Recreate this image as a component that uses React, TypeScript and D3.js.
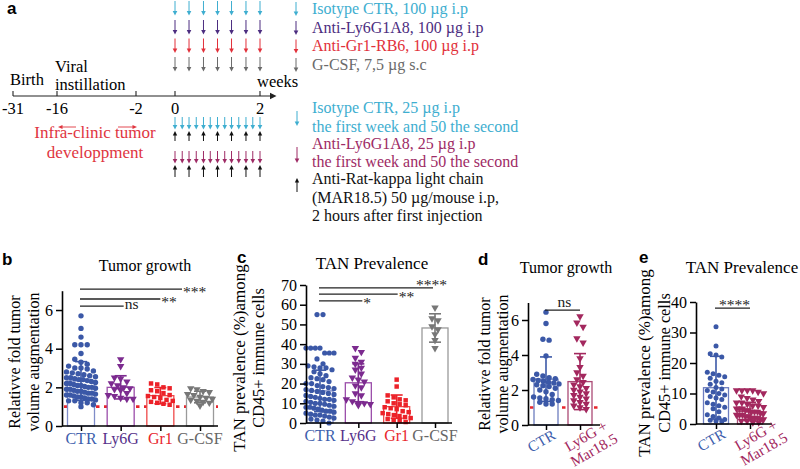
import React, { useEffect, useRef } from "react";
import * as d3 from "d3";

// ---- panel a: treatment schedule ----
const timelineTicks = [-31, -16, -2, 0, 2];
const highDoseWeeks = [0, 0.33, 0.67, 1, 1.33, 1.67, 2];
const lowDoseWeeks = [0, 0.17, 0.33, 0.5, 0.67, 0.83, 1, 1.17, 1.33, 1.5, 1.67, 1.83, 2];
const mar18Weeks = [0, 0.33, 0.67, 1, 1.33, 1.67, 2];
const highDoseLegend = [
  "Isotype CTR, 100 µg i.p",
  "Anti-Ly6G1A8, 100 µg i.p",
  "Anti-Gr1-RB6, 100 µg i.p",
  "G-CSF, 7,5 µg s.c",
];
const lowDoseLegend = [
  ["Isotype CTR, 25 µg i.p", "the first week and 50 the second"],
  ["Anti-Ly6G1A8, 25 µg i.p", "the first week and 50 the second"],
  ["Anti-Rat-kappa light chain", "(MAR18.5) 50 µg/mouse i.p,", "2 hours after first injection"],
];

// ---- panels b-e ----
const groupsBC = ["CTR", "Ly6G", "Gr1", "G-CSF"];
const groupsDE = [["CTR"], ["Ly6G +", "Mar18.5"]];

// b: tumor growth (fold)
const growthCTR = [5.7, 5.05, 4.6, 4.2, 4.2, 4.2, 3.75, 3.45, 3.3, 3.2, 3.1, 3.0, 3.0, 2.95, 2.85, 2.8, 2.75, 2.7, 2.65, 2.6, 2.55, 2.5, 2.5, 2.45, 2.4, 2.4, 2.35, 2.3, 2.25, 2.2, 2.2, 2.15, 2.1, 2.1, 2.05, 2.0, 2.0, 1.95, 1.9, 1.9, 1.85, 1.8, 1.8, 1.75, 1.7, 1.7, 1.65, 1.6, 1.6, 1.55, 1.5, 1.5, 1.45, 1.4, 1.4, 1.35, 1.3, 1.3, 1.2, 1.2, 1.1, 1.0];
const growthLy6G = [3.45, 3.1, 2.5, 2.45, 2.3, 2.2, 2.1, 2.0, 1.95, 1.9, 1.85, 1.7, 1.6, 1.55, 1.45, 1.4, 1.4];
const growthGr1 = [2.2, 2.15, 2.0, 1.95, 1.85, 1.8, 1.7, 1.6, 1.55, 1.5, 1.45, 1.35, 1.3, 1.25, 1.2, 1.15, 1.1];
const growthGCSF = [1.95, 1.9, 1.8, 1.75, 1.65, 1.6, 1.5, 1.45, 1.4, 1.35, 1.3, 1.25, 1.2, 1.05];
const growthMeans = [2.33, 2.0, 1.57, 1.5];
const growthSD = [1.0, 0.6, 0.42, 0.3];

// c: TAN prevalence (%)
const tanCTR = [55, 55, 38, 38, 38, 38, 35.5, 35.5, 35.5, 32.5, 30, 29, 28.5, 28, 28, 27, 26, 25, 24, 23, 22.5, 22, 21, 20, 20, 19, 18.5, 18, 17.5, 17, 16.5, 16, 15.5, 15, 14.5, 14, 13.5, 13, 12.5, 12, 12, 11.5, 11, 10.5, 10, 10, 9.5, 9, 8.5, 8, 8, 7.5, 7, 6.5, 6, 6, 5.5, 5, 4.5, 4, 4, 3.5, 3, 2.5, 2, 1.5, 1, 0];
const tanLy6G = [38, 36, 33, 31, 30, 28, 27, 25, 23, 22, 21, 19, 18, 15, 14, 12, 11, 10, 10, 9.5, 9];
const tanGr1 = [22, 18.5, 14, 13, 12, 11.5, 11, 10, 9.5, 9, 8, 7.5, 7, 6, 5.5, 5, 4.5, 4, 3.5, 3, 2.5, 2, 1.5, 1, 0.5];
const tanGCSF = [58.5, 53, 52, 49, 47.5, 45, 42, 38];
const tanMeans = [16.3, 20.4, 8.3, 48.2];
const tanSD = [10.5, 9.6, 5.9, 7.2];

// d: tumor growth, MAR18.5 combination
const growth2CTR = [6.45, 5.8, 4.9, 4.85, 3.95, 2.9, 2.8, 2.7, 2.65, 2.6, 2.55, 2.5, 2.45, 2.4, 2.35, 2.3, 2.25, 2.2, 2.1, 2.0, 1.9, 1.75, 1.6, 1.55, 1.5, 1.45, 1.4, 1.3, 1.2, 1.2];
const growth2Combo = [6.2, 5.85, 5.6, 4.95, 4.7, 3.8, 3.3, 3.0, 2.8, 2.6, 2.45, 2.3, 2.2, 2.1, 2.0, 1.9, 1.8, 1.7, 1.6, 1.5, 1.4, 1.3, 1.2, 1.1, 1.0, 0.9];
const growth2Means = [2.62, 2.48];
const growth2SD = [1.27, 1.6];

// e: TAN prevalence, MAR18.5 combination
const tan2CTR = [31.9, 25.6, 23, 22.6, 22, 17, 16.5, 16, 15.5, 15, 14, 13.5, 13, 12, 11.5, 11, 10.5, 10, 9.5, 9, 8.5, 8, 7, 6.5, 6, 5.5, 5, 4, 3, 2.5, 2, 1.5, 1.2, 1.0, 0.8];
const tan2Combo = [11, 11, 11, 11, 10.5, 10, 9, 8.5, 8, 7.5, 7, 7, 6.5, 6, 6, 5.5, 5, 5, 5, 4.5, 4.5, 4, 4, 4, 3.5, 3.5, 3, 3, 3, 2.5, 2.5, 2, 2, 2, 1.5, 1.5, 1, 1, 0.5, 0.5];
const tan2Means = [11.9, 4.1];
const tan2SD = [10.3, 3.0];

const serif = "Liberation Serif, Times New Roman, serif";
const sans = "Liberation Sans, Arial, sans-serif";

const col = {
  cyan: "#3eaed0",
  purple: "#4c2d80",
  red: "#e2303a",
  gray: "#6a6a6a",
  maroon: "#9e2b65",
};

const styleBC = [
  { point: "#3b58a7", bar: "#7f8cc8", label: "#4060ad", shape: "circle" },
  { point: "#7c2b8f", bar: "#9b4eaa", label: "#55308a", shape: "tri" },
  { point: "#ec2229", bar: "#ef4a4a", label: "#e8262d", shape: "square" },
  { point: "#777777", bar: "#9a9a9a", label: "#666666", shape: "tri" },
];
const styleDE = [
  { point: "#3b58a7", bar: "#6d7dbf", label: "#4060ad", shape: "circle" },
  { point: "#a3285e", bar: "#ab4a75", label: "#a3285e", shape: "tri" },
];

function downArrow(g: any, x: number, top: number, bottom: number, color: string) {
  g.append("line").attr("x1", x).attr("x2", x).attr("y1", top).attr("y2", bottom - 3)
    .attr("stroke", color).attr("stroke-width", 1);
  g.append("path").attr("d", `M${x - 2.3},${bottom - 4.5}L${x + 2.3},${bottom - 4.5}L${x},${bottom}Z`).attr("fill", color);
}

function upArrow(g: any, x: number, top: number, bottom: number, color: string) {
  g.append("line").attr("x1", x).attr("x2", x).attr("y1", top + 3).attr("y2", bottom)
    .attr("stroke", color).attr("stroke-width", 1);
  g.append("path").attr("d", `M${x - 2.2},${top + 4.5}L${x + 2.2},${top + 4.5}L${x},${top}Z`).attr("fill", color);
}

function drawSchedule(svg: any) {
  const g = svg.append("g").style("font-family", serif).style("font-size", "16px");
  const x = d3.scaleLinear().domain(timelineTicks).range([13, 57, 136, 175, 260]);
  const axisY = 96;

  svg.append("text").attr("x", 7).attr("y", 13.5).style("font-family", sans)
    .style("font-weight", "bold").style("font-size", "17px").text("a");

  g.append("line").attr("x1", x(-31)).attr("x2", 272).attr("y1", axisY).attr("y2", axisY)
    .attr("stroke", "#222").attr("stroke-width", 1.1);
  g.append("path").attr("d", `M270,92.8L276.5,${axisY}L270,99.2Z`).attr("fill", "#222");
  timelineTicks.forEach((t) => {
    g.append("line").attr("x1", x(t)).attr("x2", x(t)).attr("y1", axisY - 5).attr("y2", axisY)
      .attr("stroke", "#222").attr("stroke-width", 1.1);
    g.append("text").attr("x", x(t)).attr("y", 114).attr("text-anchor", "middle")
      .style("font-size", "16.5px").text(String(t));
  });
  g.append("text").attr("x", x(-31) - 3).attr("y", 85).style("font-size", "16.5px").text("Birth");
  g.append("text").attr("x", x(-16) - 2).attr("y", 72).style("font-size", "16.5px").text("Viral");
  g.append("text").attr("x", x(-16) - 2).attr("y", 90).style("font-size", "16.5px").text("instillation");
  g.append("text").attr("x", x(2) - 3).attr("y", 87).style("font-size", "16.5px").text("weeks");

  // infra-clinic period
  const red = "#e0353f";
  g.append("text").attr("x", 95).attr("y", 138).attr("text-anchor", "middle").attr("fill", red)
    .style("font-size", "17px").text("Infra-clinic tumor");
  g.append("text").attr("x", 95).attr("y", 158).attr("text-anchor", "middle").attr("fill", red)
    .style("font-size", "17px").text("developpment");
  g.append("line").attr("x1", 61).attr("x2", 76).attr("y1", 127).attr("y2", 127).attr("stroke", red).attr("stroke-width", 0.9);
  g.append("path").attr("d", "M58,127L62.5,125L62.5,129Z").attr("fill", red);
  g.append("line").attr("x1", 118).attr("x2", 134).attr("y1", 127).attr("y2", 127).attr("stroke", red).attr("stroke-width", 0.9);
  g.append("path").attr("d", "M137,127L132.5,125L132.5,129Z").attr("fill", red);

  // high dose schedule
  const rowColors = [col.cyan, col.purple, col.red, col.gray];
  const rowTops = [1, 20, 38.5, 57];
  rowColors.forEach((c, i) => {
    highDoseWeeks.forEach((w) => downArrow(g, x(w), rowTops[i], rowTops[i] + 14.5, c));
    downArrow(g, 296, rowTops[i] + 1, rowTops[i] + 15, c);
    g.append("text").attr("x", 312).attr("y", rowTops[i] + 12.5).attr("fill", c).text(highDoseLegend[i]);
  });

  // low dose schedule
  lowDoseWeeks.forEach((w) => downArrow(g, x(w), 117, 129.5, col.cyan));
  mar18Weeks.forEach((w) => upArrow(g, x(w), 131, 141, "#111"));
  lowDoseWeeks.forEach((w) => downArrow(g, x(w), 151, 163.5, col.maroon));
  mar18Weeks.forEach((w) => upArrow(g, x(w), 165, 177, "#111"));

  downArrow(g, 297, 111, 126, col.cyan);
  downArrow(g, 297, 147, 163, col.maroon);
  upArrow(g, 297, 178, 192, "#111");
  const legendColors = [col.cyan, col.maroon, "#111"];
  const legendBase = [[113, 132], [149, 167], [184, 203, 221]];
  lowDoseLegend.forEach((lines, i) => {
    lines.forEach((t, j) => {
      g.append("text").attr("x", 312).attr("y", legendBase[i][j]).attr("fill", legendColors[i]).text(t);
    });
  });
}

function swarm(values: number[], y: any, cx: number, r: number, half: number) {
  const sorted = values.map((v) => y(v)).sort((a: number, b: number) => a - b);
  const rows: number[][] = [];
  sorted.forEach((py: number) => {
    const row = rows[rows.length - 1];
    if (row && py - row[0] < r * 1.9) row.push(py);
    else rows.push([py]);
  });
  const out: [number, number][] = [];
  rows.forEach((row) => {
    const n = row.length;
    const step = n > 1 ? Math.min(2 * r + 0.8, (2 * half) / (n - 1)) : 0;
    row.forEach((py, i) => out.push([cx + (i - (n - 1) / 2) * step, py]));
  });
  return out;
}

function drawPanel(svg: any, p: any) {
  const g = svg.append("g").style("font-family", serif);
  const y = d3.scaleLinear().domain([0, p.yMax]).range([p.bottom, p.top]);
  const keys = p.groups.map((d: any, i: number) => String(i));
  const x = d3.scalePoint().domain(keys).range([p.first, p.last]);

  svg.append("text").attr("x", p.letterPos[0]).attr("y", p.letterPos[1]).style("font-family", sans)
    .style("font-weight", "bold").style("font-size", "17px").text(p.letter);
  g.append("text").attr("x", p.titleX).attr("y", p.titleY).attr("text-anchor", "middle")
    .style("font-size", p.titleSize + "px").text(p.title);
  p.yLabel.forEach((t: string, i: number) => {
    g.append("text").attr("transform", `translate(${p.yLabelX[i]},${p.yLabelY}) rotate(-90)`)
      .attr("text-anchor", "middle").style("font-size", p.yLabelSize[i] + "px").text(t);
  });

  if (p.refLine != null) {
    g.append("line").attr("x1", p.left + 2).attr("x2", p.right).attr("y1", y(p.refLine)).attr("y2", y(p.refLine))
      .attr("stroke", "#e8262d").attr("stroke-width", 2.6).attr("stroke-dasharray", "3.5,4.5");
  }

  p.groups.forEach((gr: any, i: number) => {
    const cx = x(String(i)) as number;
    const st = p.styles[i];
    g.append("rect").attr("x", cx - p.barWidth / 2).attr("y", y(gr.mean)).attr("width", p.barWidth)
      .attr("height", y(0) - y(gr.mean)).attr("fill", "#fff").attr("stroke", st.bar).attr("stroke-width", 1.3);
    const sym = st.shape === "circle" ? d3.symbolCircle : st.shape === "square" ? d3.symbolSquare : d3.symbolTriangle;
    const size = st.shape === "circle" ? p.r * p.r * Math.PI : st.shape === "square" ? 20 : 24;
    const d = d3.symbol(sym, size)();
    swarm(gr.values, y, cx, p.r, p.barWidth / 2 + 1).forEach(([px, py]) => {
      g.append("path").attr("d", d).attr("fill", st.point)
        .attr("transform", `translate(${px},${py})${st.shape === "tri" ? " rotate(180)" : ""}`);
    });
    const hi = y(gr.mean + gr.sd), lo = y(Math.max(0, gr.mean - gr.sd));
    g.append("line").attr("x1", cx).attr("x2", cx).attr("y1", hi).attr("y2", lo).attr("stroke", st.point).attr("stroke-width", 1.6);
    [hi, lo].forEach((yy) => {
      g.append("line").attr("x1", cx - 6).attr("x2", cx + 6).attr("y1", yy).attr("y2", yy).attr("stroke", st.point).attr("stroke-width", 1.6);
    });
  });

  // axes
  const yAxis = g.append("g").attr("transform", `translate(${p.left},0)`)
    .call(d3.axisLeft(y).tickValues(p.yTicks).tickSize(6).tickSizeOuter(0).tickPadding(3).tickFormat(d3.format("d")));
  yAxis.attr("font-family", null).attr("font-size", null)
    .style("font-family", serif).style("font-size", p.tickSize + "px");
  yAxis.selectAll("line").attr("stroke-width", 1.5);
  yAxis.select(".domain").attr("stroke-width", 1.6);
  const xAxis = g.append("g").attr("transform", `translate(0,${p.bottom})`)
    .call(d3.axisBottom(x).tickSize(5).tickFormat(() => ""));
  xAxis.select(".domain").remove();
  xAxis.selectAll("line").attr("stroke-width", 1.5);
  g.append("line").attr("x1", p.left).attr("x2", p.right).attr("y1", p.bottom).attr("y2", p.bottom)
    .attr("stroke", "#000").attr("stroke-width", 1.6);

  // category labels
  p.groups.forEach((gr: any, i: number) => {
    const cx = x(String(i)) as number;
    const color = p.styles[i].label;
    if (!p.rotated) {
      g.append("text").attr("x", cx).attr("y", p.bottom + 18).attr("text-anchor", "middle")
        .style("font-size", "16px").attr("fill", color).text(gr.label[0]);
    } else {
      const n = gr.label.length;
      const dx = n === 1 ? -4.5 : 10;
      const cy = n === 1 ? p.bottom + 16 : p.bottom + 18;
      const lg = g.append("g").attr("transform", `translate(${cx + dx},${cy}) rotate(-30)`);
      gr.label.forEach((t: string, j: number) => {
        lg.append("text").attr("x", 0).attr("y", (j - (n - 1) / 2) * 16 + 5).attr("text-anchor", "middle")
          .style("font-size", "15px").attr("fill", color).text(t);
      });
    }
  });

  // significance brackets
  p.sig.forEach((s: any) => {
    const x0 = (x(String(s.from)) as number) - 1;
    const x1 = (x(String(s.to)) as number) + s.shift;
    const yy = y(s.value);
    g.append("line").attr("x1", x0).attr("x2", x1).attr("y1", yy).attr("y2", yy).attr("stroke", "#222").attr("stroke-width", 1.3);
    const star = s.text !== "ns";
    const t = g.append("text").style("font-size", "15.5px").attr("fill", "#222").text(s.text);
    if (s.mode === "after") {
      t.attr("x", x1 + 1).attr("y", yy + (star ? 7.5 : 3));
    } else if (s.mode === "aboveEnd") {
      t.attr("x", x1 + 14).attr("y", yy + 2).attr("text-anchor", "end");
    } else {
      t.attr("x", (x0 + x1) / 2 + 2).attr("y", yy + (star ? 2 : -3)).attr("text-anchor", "middle");
    }
  });
}

const App = () => {
  const ref = useRef<SVGSVGElement>(null);

  useEffect(() => {
    const svg = d3.select(ref.current);
    svg.selectAll("*").remove();
    drawSchedule(svg);

    const growthValues = [growthCTR, growthLy6G, growthGr1, growthGCSF];
    drawPanel(svg, {
      letter: "b", letterPos: [2, 265],
      title: "Tumor growth", titleX: 145, titleY: 271, titleSize: 16,
      left: 62, right: 218, bottom: 426, top: 290.7, yMax: 7, yTicks: [0, 2, 4, 6], tickSize: 16,
      first: 81, last: 200, barWidth: 27, r: 2.7,
      groups: groupsBC.map((k, i) => ({ label: [k], values: growthValues[i], mean: growthMeans[i], sd: growthSD[i] })),
      styles: styleBC,
      yLabel: ["Relativve fold tumor", "volume augmentation"], yLabelX: [20, 39], yLabelY: 362, yLabelSize: [16, 16],
      refLine: 1,
      sig: [
        { from: 0, to: 1, value: 6.2, text: "ns", shift: 3, mode: "after" },
        { from: 0, to: 2, value: 6.57, text: "**", shift: 0, mode: "after" },
        { from: 0, to: 3, value: 7.08, text: "***", shift: -18, mode: "after" },
      ],
      rotated: false,
    });

    const tanValues = [tanCTR, tanLy6G, tanGr1, tanGCSF];
    drawPanel(svg, {
      letter: "c", letterPos: [237, 263],
      title: "TAN Prevalence", titleX: 372, titleY: 269, titleSize: 17,
      left: 306, right: 452, bottom: 423, top: 285, yMax: 70, yTicks: [0, 10, 20, 30, 40, 50, 60, 70], tickSize: 16,
      first: 320, last: 435, barWidth: 26, r: 2.6,
      groups: groupsBC.map((k, i) => ({ label: [k], values: tanValues[i], mean: tanMeans[i], sd: tanSD[i] })),
      styles: styleBC,
      yLabel: ["TAN prevalence (%)among", "CD45+ immune cells"], yLabelX: [245, 264], yLabelY: 358, yLabelSize: [17, 16.3],
      sig: [
        { from: 0, to: 1, value: 61.9, text: "*", shift: 4, mode: "after" },
        { from: 0, to: 2, value: 65.4, text: "**", shift: 1, mode: "after" },
        { from: 0, to: 3, value: 68.5, text: "****", shift: -2, mode: "aboveEnd" },
      ],
      rotated: false,
    });

    const growth2Values = [growth2CTR, growth2Combo];
    drawPanel(svg, {
      letter: "d", letterPos: [478, 265],
      title: "Tumor growth", titleX: 566, titleY: 273, titleSize: 16,
      left: 528, right: 600, bottom: 425, top: 302.5, yMax: 7, yTicks: [0, 2, 4, 6], tickSize: 16,
      first: 546, last: 580, barWidth: 24, r: 2.7,
      groups: groupsDE.map((k, i) => ({ label: k, values: growth2Values[i], mean: growth2Means[i], sd: growth2SD[i] })),
      styles: styleDE,
      yLabel: ["Relativve fold tumor", "volume augmentation"], yLabelX: [490, 508], yLabelY: 364, yLabelSize: [16, 16],
      refLine: 1,
      sig: [{ from: 0, to: 1, value: 6.57, text: "ns", shift: 0, mode: "above" }],
      rotated: true,
    });

    const tan2Values = [tan2CTR, tan2Combo];
    drawPanel(svg, {
      letter: "e", letterPos: [639, 263],
      title: "TAN Prevalence", titleX: 742, titleY: 273, titleSize: 17,
      left: 696, right: 772, bottom: 424, top: 302, yMax: 40, yTicks: [0, 10, 20, 30, 40], tickSize: 16,
      first: 716, last: 750, barWidth: 25, r: 2.5,
      groups: groupsDE.map((k, i) => ({ label: k, values: tan2Values[i], mean: tan2Means[i], sd: tan2SD[i] })),
      styles: styleDE,
      yLabel: ["TAN prevalence (%)among", "CD45+ immune cells"], yLabelX: [650, 670], yLabelY: 363, yLabelSize: [17, 16.3],
      sig: [{ from: 0, to: 1, value: 38, text: "****", shift: 0, mode: "above" }],
      rotated: true,
    });
  }, []);

  return (
    <>
      <style>{"body{margin:0;background:#fff}"}</style>
      <svg ref={ref} width={800} height={469} style={{ display: "block", background: "#fff" }} />
    </>
  );
};

export default App;
